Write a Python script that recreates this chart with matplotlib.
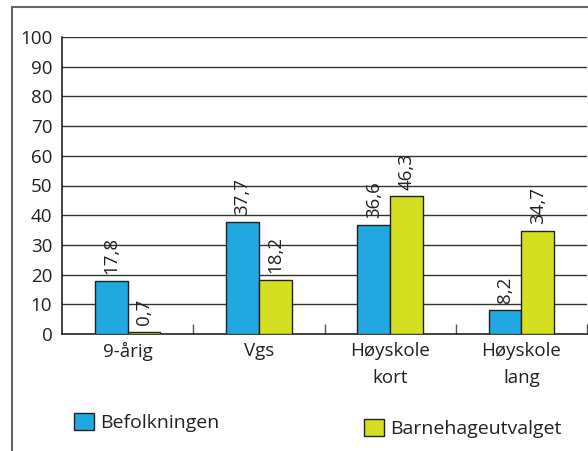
import matplotlib
matplotlib.use("Agg")
import matplotlib.pyplot as plt
from matplotlib.lines import Line2D
import numpy as np

categories = ["9-årig", "Vgs", "Høyskole\nkort", "Høyskole\nlang"]
series_names = ["Befolkningen", "Barnehageutvalget"]
befolkningen = [17.8, 37.7, 36.6, 8.2]
barnehage = [0.7, 18.2, 46.3, 34.7]
yticks = [0, 10, 20, 30, 40, 50, 60, 70, 80, 90, 100]

BLUE = "#22A8E0"
YELLOW = "#D4DF22"
FS = 13.5

plt.rcParams['font.family'] = ['Open Sans', 'DejaVu Sans']

W, H = 588, 451
fig = plt.figure(figsize=(W / 100, H / 100), dpi=100)

# outer frame (left and top only visible)
fig.add_artist(Line2D([12 / W, 12 / W], [0, 1 - 7 / H], color="#666666", lw=1.5))
fig.add_artist(Line2D([12 / W, 1], [1 - 7 / H, 1 - 7 / H], color="#666666", lw=1.5))

ax = fig.add_axes([62 / W, 1 - 334 / H, (587 - 62) / W, (334 - 37) / H])

x = np.arange(len(categories))
bw = 0.25
b1 = ax.bar(x - bw / 2, befolkningen, bw, color=BLUE, edgecolor="#222222", linewidth=1, zorder=3,
            label=series_names[0])
b2 = ax.bar(x + bw / 2, barnehage, bw, color=YELLOW, edgecolor="#222222", linewidth=1, zorder=3,
            label=series_names[1])

for bars, vals in ((b1, befolkningen), (b2, barnehage)):
    for rect, v in zip(bars, vals):
        ax.annotate(f"{v:.1f}".replace(".", ","),
                    (rect.get_x() + rect.get_width() / 2, rect.get_height()),
                    xytext=(0, 5), textcoords="offset points",
                    rotation=90, ha="center", va="bottom", fontsize=FS, color="#222222")

ax.set_xlim(-0.5, len(categories) - 0.5)
ax.set_ylim(0, 100)
ax.set_yticks(yticks)
ax.set_yticklabels([str(t) for t in yticks], fontsize=FS, color="#222222")
ax.tick_params(axis="y", length=0, pad=7)
for t in yticks[1:]:
    ax.axhline(t, color="#333333", lw=1, zorder=1)

ax.set_xticks(x)
ax.set_xticklabels(categories, fontsize=FS, color="#222222", linespacing=1.6)
ax.tick_params(axis="x", which="major", length=0, pad=6)
ax.set_xticks(np.arange(len(categories)) + 0.5, minor=True)
ax.tick_params(axis="x", which="minor", direction="in", length=7, width=1, color="#555555")

for s in ["top", "right"]:
    ax.spines[s].set_visible(False)
ax.spines["left"].set_color("#222222")
ax.spines["bottom"].set_color("#222222")
ax.spines["left"].set_linewidth(1.2)
ax.spines["bottom"].set_linewidth(1.2)

common = dict(frameon=False, fontsize=14, handlelength=1.05, handleheight=1.0,
              handletextpad=0.3, borderpad=0, borderaxespad=0)
l1 = fig.legend(handles=[b1], labels=[series_names[0]], loc="upper left",
                bbox_to_anchor=(74 / W, 1 - 413 / H), **common)
l2 = fig.legend(handles=[b2], labels=[series_names[1]], loc="upper left",
                bbox_to_anchor=(364 / W, 1 - 419 / H), **common)
for t in l1.get_texts() + l2.get_texts():
    t.set_color("#222222")

fig.savefig("out.png", dpi=100)
